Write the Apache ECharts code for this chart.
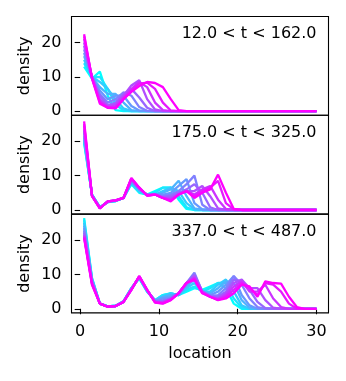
<!DOCTYPE html>
<html><head><meta charset="utf-8">
<script src="https://cdn.jsdelivr.net/npm/echarts@6/dist/echarts.min.js"></script>
<style>html,body{margin:0;padding:0;background:#fff}#c{width:346px;height:381px}</style>
</head><body><div id="c"></div>
<script>
const locations = [0.5,1.5,2.5,3.5,4.5,5.5,6.5,7.5,8.5,9.5,10.5,11.5,12.5,13.5,14.5,15.5,16.5,17.5,18.5,19.5,20.5,21.5,22.5,23.5,24.5,25.5,26.5,27.5,28.5,29.5,30];
const xTicks = [0,10,20,30];
const yTicks = [0,10,20];
const panelLabels = ['12.0 < t < 162.0','175.0 < t < 325.0','337.0 < t < 487.0'];

const panel1 = [
 [13,9.5,11.5,4.5,0.3, 0,0,0,0,0, 0,0,0,0,0, 0,0,0,0,0, 0,0,0,0,0, 0,0,0,0,0, 0],
 [14,9.8,10,6.5,2, 0.2,0,0,0,0, 0,0,0,0,0, 0,0,0,0,0, 0,0,0,0,0, 0,0,0,0,0, 0],
 [15,10,8.5,6.5,3.5, 0.8,0,0,0,0, 0,0,0,0,0, 0,0,0,0,0, 0,0,0,0,0, 0,0,0,0,0, 0],
 [16,10,7,5,5, 2.5,0.3,0,0,0, 0,0,0,0,0, 0,0,0,0,0, 0,0,0,0,0, 0,0,0,0,0, 0],
 [17,10,6,3.5,4.5, 4.5,1.5,0.2,0,0, 0,0,0,0,0, 0,0,0,0,0, 0,0,0,0,0, 0,0,0,0,0, 0],
 [18,10,5,2.5,3.5, 5.5,4.5,1.2,0.1,0, 0,0,0,0,0, 0,0,0,0,0, 0,0,0,0,0, 0,0,0,0,0, 0],
 [19,10,4.5,1.8,2.5, 5,6.5,4,1,0, 0,0,0,0,0, 0,0,0,0,0, 0,0,0,0,0, 0,0,0,0,0, 0],
 [20,9.8,3.5,1.5,2, 4.5,7.5,9,3.5,0.5, 0,0,0,0,0, 0,0,0,0,0, 0,0,0,0,0, 0,0,0,0,0, 0],
 [21,9.8,3,1.2,1.5, 4,6.5,8.5,7,2.5, 0.3,0,0,0,0, 0,0,0,0,0, 0,0,0,0,0, 0,0,0,0,0, 0],
 [21.8,9.6,2.6,1,1, 3.5,6,8,8.3,6.5, 2.5,0.2,0,0,0, 0,0,0,0,0, 0,0,0,0,0, 0,0,0,0,0, 0],
 [22.4,9.5,2.2,1,0.8, 3.5,5.6,7.3,8.5,8.2, 7,3.5,0.3,0,0, 0,0,0,0,0, 0,0,0,0,0, 0,0,0,0,0, 0]
];
const panel2 = [
 [19.5,4.5,0.8,2.3,2.6, 3.5,7.5,5,4.5,5.5, 6.5,6.5,3,0.3,0, 0,0,0,0,0, 0,0,0,0,0, 0,0,0,0,0, 0],
 [20,4.5,0.8,2.3,2.6, 3.5,7.8,5.2,4.5,5, 6.5,6.5,4,0.8,0, 0,0,0,0,0, 0,0,0,0,0, 0,0,0,0,0, 0],
 [20.5,4.4,0.7,2.3,2.6, 3.5,8,5.5,4.5,4.5, 5.5,6.5,5.5,2,0.2, 0,0,0,0,0, 0,0,0,0,0, 0,0,0,0,0, 0],
 [21,4.4,0.7,2.4,2.7, 3.5,8.2,5.8,4.5,4.5, 5,6,8.5,4,0.5, 0,0,0,0,0, 0,0,0,0,0, 0,0,0,0,0, 0],
 [21.5,4.3,0.7,2.4,2.7, 3.5,8.4,6,4.5,4.5, 4.5,5,7,9,2, 0.2,0,0,0,0, 0,0,0,0,0, 0,0,0,0,0, 0],
 [22.5,4.3,0.6,2.4,2.7, 3.5,8.6,6.2,4.4,4.5, 4,4.5,5.5,7.5,10, 1.5,0,0,0,0, 0,0,0,0,0, 0,0,0,0,0, 0],
 [23,4.2,0.6,2.4,2.7, 3.5,8.8,6.3,4.3,4.5, 3.8,4,5,6,7.5, 5,0.8,0,0,0, 0,0,0,0,0, 0,0,0,0,0, 0],
 [23.5,4.2,0.6,2.5,2.8, 3.5,9,6.4,4.3,4.5, 3.5,3.5,4.5,5.5,5.5, 7,4,0.5,0,0, 0,0,0,0,0, 0,0,0,0,0, 0],
 [24.5,4.1,0.5,2.5,2.8, 3.5,9.1,6.4,4.2,4.5, 3.5,3,4.5,5.5,4.5, 6,7,3,0.3,0, 0,0,0,0,0, 0,0,0,0,0, 0],
 [25,4.1,0.5,2.5,2.8, 3.5,9.2,6.5,4.2,4.5, 3.5,2.8,4.5,5.5,4, 5.5,6.5,8.5,2,0.2, 0,0,0,0,0, 0,0,0,0,0, 0],
 [25.8,4,0.5,2.5,2.8, 3.5,9.3,6.5,4.2,4.5, 3.5,2.5,4.5,5.5,3.5, 5,6,10.3,5,0.3, 0,0,0,0,0, 0,0,0,0,0, 0]
];
const panel3 = [
 [26.4,9,1.5,0.7,0.9, 2.2,6,8.8,5,2.5, 4,4.5,4,5,6, 5.5,6.5,7.5,6,1.5, 0,0,0,0,0, 0,0,0,0,0, 0],
 [25.8,8.8,1.5,0.7,0.9, 2.2,6,9,5,2.5, 4,4.5,4,5.5,6.5, 5,6,7.5,7.5,3, 0.3,0,0,0,0, 0,0,0,0,0, 0],
 [25,8.6,1.5,0.7,0.9, 2.1,6,9,5.2,2.5, 3.5,4.5,4,6,7.5, 5,5,7,8.5,5, 1,0,0,0,0, 0,0,0,0,0, 0],
 [24.2,8.4,1.5,0.7,0.8, 2.1,5.9,9.2,5.2,2.4, 3.5,4,4,6.5,8.5, 5,4.5,6,8,7.5, 2.5,0.3,0,0,0, 0,0,0,0,0, 0],
 [23.5,8.2,1.5,0.7,0.8, 2.1,5.8,9.2,5.3,2.3, 3,3.5,4.5,7,9.5, 5,4,5,7,9.5, 4,1,0,0,0, 0,0,0,0,0, 0],
 [22.8,8,1.5,0.6,0.8, 2,5.8,9.3,5.3,2.2, 2.5,3,4.5,7.5,10.5, 5,3.8,4,6,9.5, 7,3,0.5,0,0, 0,0,0,0,0, 0],
 [22.2,7.8,1.5,0.6,0.8, 2,5.7,9.3,5.4,2.1, 2,3,4.5,7.5,10, 5,3.6,3.5,5,8.5, 8,5.5,2,0.2,0, 0,0,0,0,0, 0],
 [21.6,7.6,1.5,0.6,0.8, 2,5.6,9.4,5.4,2, 2,2.8,4.5,7.5,9.5, 5,3.5,3,4.5,7.5, 8.5,6,6,2.5,0.3, 0,0,0,0,0, 0],
 [21.2,7.4,1.5,0.6,0.8, 2,5.6,9.4,5.5,2, 1.8,2.7,4.5,7.5,9, 4.8,3.5,2.8,4,6.5, 8,5,5,7,3, 0.5,0,0,0,0, 0],
 [20.9,7.2,1.5,0.6,0.8, 2,5.5,9.5,5.5,1.9, 1.6,2.6,4.5,7.5,8.7, 4.6,3.5,2.6,3.5,5.5, 7.5,6,4,7.5,7, 5,1.5,0,0,0, 0],
 [20.6,7,1.5,0.6,0.8, 2,5.5,9.5,5.5,1.8, 1.5,2.5,4.5,7.5,8.4, 4.5,3.5,2.5,3,4.5, 7,6.5,3.5,8,7.5, 7.3,3.5,0.5,0,0, 0]
];
const panels = [panel1, panel2, panel3];

const FONT = 'DejaVu Sans';
const FS = 16;
const gridTops = [16.5, 115.3, 214.1];
const gridH = 98.8;

function coolColor(f){
  return 'rgb(' + Math.round(255*f) + ',' + Math.round(255*(1-f)) + ',255)';
}

const grids = [], xAxes = [], yAxes = [], series = [], graphics = [];
panels.forEach(function(lines, p){
  const last = p === panels.length - 1;
  grids.push({left: 71.5, width: 257, top: gridTops[p], height: gridH, show: true,
    borderColor: '#000', borderWidth: 1.1, backgroundColor: 'transparent', containLabel: false});
  xAxes.push({type: 'value', gridIndex: p, min: -1.1, max: 31.52,
    axisLine: {show: false}, splitLine: {show: false},
    axisTick: {show: last, customValues: xTicks, length: 5.5, inside: false, lineStyle: {color: '#000', width: 1.1}},
    axisLabel: {show: last, customValues: xTicks, margin: 11, color: '#000', fontFamily: FONT, fontSize: FS},
    name: last ? 'location' : '', nameLocation: 'middle', nameGap: 32.5, nameMoveOverlap: false,
    nameTextStyle: {color: '#000', fontFamily: FONT, fontSize: FS}});
  yAxes.push({type: 'value', gridIndex: p, min: -1.2, max: 27.56,
    axisLine: {show: false}, splitLine: {show: false},
    axisTick: {show: true, customValues: yTicks, length: 5.5, inside: false, lineStyle: {color: '#000', width: 1.1}},
    axisLabel: {customValues: yTicks, margin: 10, color: '#000', fontFamily: FONT, fontSize: FS},
    name: 'density', nameLocation: 'middle', nameRotate: 90, nameGap: 38.5, nameMoveOverlap: false,
    nameTextStyle: {color: '#000', fontFamily: FONT, fontSize: FS}});
  lines.forEach(function(ys, k){
    const f = k / (lines.length - 1);
    series.push({type: 'line', xAxisIndex: p, yAxisIndex: p, showSymbol: false, symbol: 'none',
      silent: true, animation: false,
      lineStyle: {color: coolColor(f), width: 2.3},
      data: locations.map(function(x, i){ return [x, ys[i]]; })});
  });
  graphics.push({type: 'text', x: 316.5, y: gridTops[p] + 17.7, z: 100,
    style: {text: panelLabels[p], x: 0, y: 0, fill: '#000', font: FS + 'px "' + FONT + '"',
      align: 'right', verticalAlign: 'middle', textAlign: 'right', textVerticalAlign: 'middle'}});
});

const chart = echarts.init(document.getElementById('c'), null, {renderer: 'canvas'});
chart.setOption({animation: false, grid: grids, xAxis: xAxes, yAxis: yAxes, series: series, graphic: graphics});
</script>
</body></html>
